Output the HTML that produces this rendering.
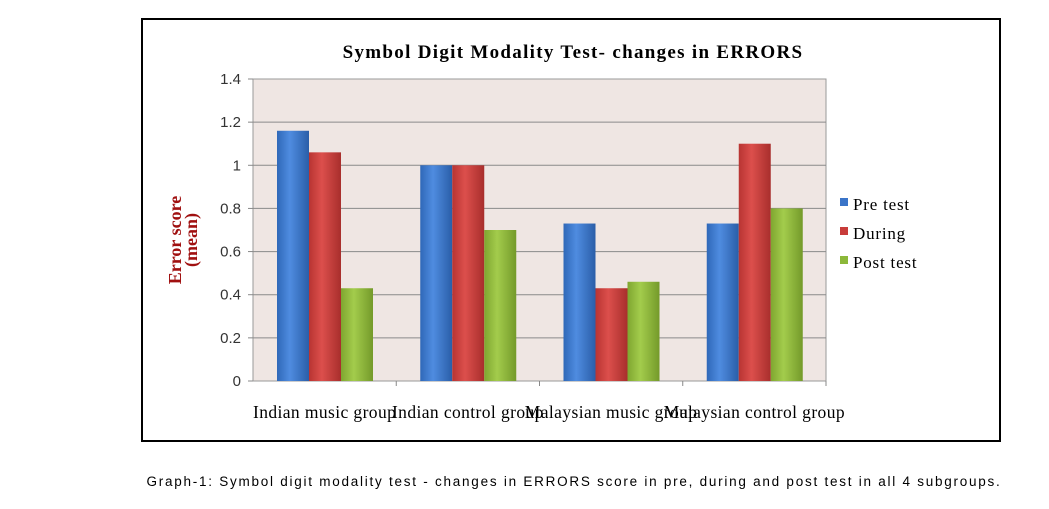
<!DOCTYPE html>
<html><head><meta charset="utf-8"><style>
body{margin:0;background:#fff;width:1049px;height:504px;overflow:hidden;}
svg text{font-family:"Liberation Serif",serif;}
</style></head><body>
<svg width="1049" height="504">
<defs>
<linearGradient id="gb" x1="0" x2="1"><stop offset="0" stop-color="#2f68b8"/><stop offset="0.4" stop-color="#4f8ce0"/><stop offset="1" stop-color="#2a5ea8"/></linearGradient>
<linearGradient id="gr" x1="0" x2="1"><stop offset="0" stop-color="#b83432"/><stop offset="0.4" stop-color="#dc4f4c"/><stop offset="1" stop-color="#a82e2c"/></linearGradient>
<linearGradient id="gg" x1="0" x2="1"><stop offset="0" stop-color="#7fa630"/><stop offset="0.4" stop-color="#a3cc4c"/><stop offset="1" stop-color="#749a2a"/></linearGradient>
</defs>
<rect x="142" y="19" width="858" height="422" fill="#fff" stroke="#000" stroke-width="2"/>
<text x="573" y="58" text-anchor="middle" font-size="19" font-weight="bold" letter-spacing="1.3">Symbol Digit Modality Test- changes in ERRORS</text>
<rect x="253" y="79" width="573" height="302" fill="#efe6e3" stroke="#999"/>
<g id="grid"></g><g id="bars"></g><g id="labels"></g>
<g transform="translate(181,240) rotate(-90)">
<text x="0" y="0" text-anchor="middle" font-size="18" font-weight="bold" fill="#a01010">Error score</text>
<text x="0" y="16" text-anchor="middle" font-size="18" font-weight="bold" fill="#a01010">(mean)</text>
</g>
<g>
<rect x="840" y="198" width="8" height="8" fill="#3a74c8"/>
<text x="853" y="210" font-size="17" letter-spacing="0.8">Pre test</text>
<rect x="840" y="227" width="8" height="8" fill="#c83c3a"/>
<text x="853" y="239" font-size="17" letter-spacing="0.8">During</text>
<rect x="840" y="256" width="8" height="8" fill="#8cb83a"/>
<text x="853" y="268" font-size="17" letter-spacing="0.8">Post test</text>
</g>
<text x="574" y="486" text-anchor="middle" font-size="13.5" letter-spacing="1.75" style="font-family:'Liberation Sans',sans-serif">Graph-1: Symbol digit modality test - changes in ERRORS score in pre, during and post test in all 4 subgroups.</text>
</svg>
<script>
const categories=["Indian music group","Indian control group","Malaysian music group","Malaysian control group"];
const preTest=[1.16,1.0,0.73,0.73];
const during=[1.06,1.0,0.43,1.1];
const postTest=[0.43,0.7,0.46,0.8];
const yTicks=[0,0.2,0.4,0.6,0.8,1,1.2,1.4];
const NS="http://www.w3.org/2000/svg";
const X0=253,X1=826,Y0=381,Y1=79,YMAX=1.4;
const y=v=>Y0-(v/YMAX)*(Y0-Y1);
const cw=(X1-X0)/categories.length;
const grid=document.getElementById('grid'),bars=document.getElementById('bars'),labels=document.getElementById('labels');
function mk(tag,attrs,parent){const e=document.createElementNS(NS,tag);for(const k in attrs)e.setAttribute(k,attrs[k]);parent.appendChild(e);return e;}
yTicks.forEach(t=>{
  if(t>0&&t<YMAX){const l=mk('line',{x1:X0,x2:X1,y1:y(t),y2:y(t),stroke:'#8a8a8a'},grid);
  
  }
  const tk=mk('line',{x1:X0-5,x2:X0,y1:y(t),y2:y(t),stroke:'#888'},grid);
  
  
  const tx=mk('text',{x:X0-12,y:y(t)+5,'text-anchor':'end','font-size':15,fill:'#333',style:"font-family:'Liberation Sans',sans-serif"},labels);
  tx.textContent=String(t);
  
  
});
const series=[[preTest,'url(#gb)','bar-pre'],[during,'url(#gr)','bar-during'],[postTest,'url(#gg)','bar-post']];
categories.forEach((c,i)=>{
  const cx=X0+i*cw;
  const tk=mk('line',{x1:cx+cw,x2:cx+cw,y1:Y0,y2:Y0+5,stroke:'#888'},grid);
  
  
  series.forEach((s,j)=>{
    const v=s[0][i];
    const r=mk('rect',{x:cx+24+j*32,y:y(v),width:32,height:Y0-y(v),fill:s[1]},bars);
    
    
  });
  const tx=mk('text',{x:cx+cw/2,y:418,'text-anchor':'middle','font-size':17.5,'letter-spacing':0.4},labels);
  tx.textContent=c;
  
  
});
</script>
</body></html>
